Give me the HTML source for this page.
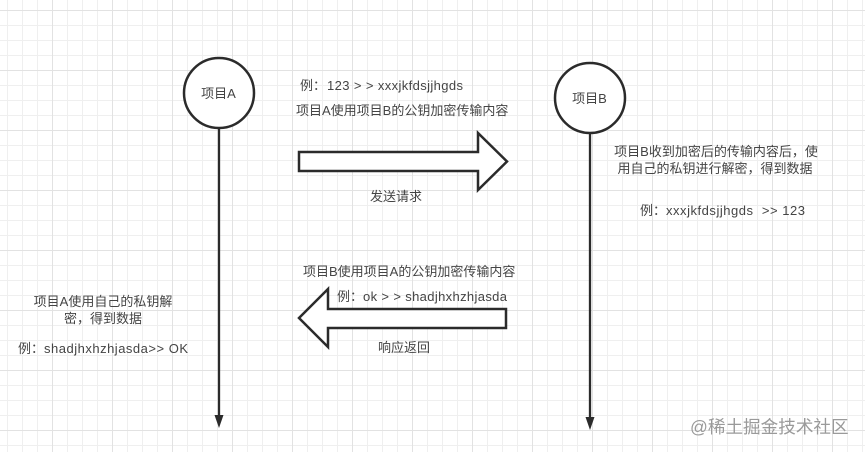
<!DOCTYPE html>
<html><head><meta charset="utf-8">
<style>
html,body{margin:0;padding:0;background:#fff;width:865px;height:452px;overflow:hidden}
svg{display:block;filter:blur(0.35px)}
text{font-family:"Liberation Sans","Noto Sans CJK SC",sans-serif;font-size:13px;fill:#444}
</style></head><body>
<svg width="865" height="452" viewBox="0 0 865 452" xmlns="http://www.w3.org/2000/svg">
<defs>
<pattern id="minor" width="15" height="15" patternUnits="userSpaceOnUse" x="7" y="10">
<path d="M0.5 0V15M0 0.5H15" stroke="#efefef" stroke-width="1" fill="none"/>
</pattern>
<pattern id="major" width="60" height="60" patternUnits="userSpaceOnUse" x="52" y="10">
<path d="M0.5 0V60M0 0.5H60" stroke="#e2e2e2" stroke-width="1" fill="none"/>
</pattern>
</defs>
<rect width="865" height="452" fill="#fff"/>
<rect width="865" height="452" fill="url(#minor)"/>
<rect width="865" height="452" fill="url(#major)"/>

<line x1="219" y1="128" x2="219" y2="416" stroke="#2b2b2b" stroke-width="2.300"/>
<polygon points="214.500,415 223.500,415 219,428" fill="#2b2b2b"/>
<line x1="590" y1="133" x2="590" y2="418" stroke="#2b2b2b" stroke-width="2.300"/>
<polygon points="585.500,417 594.500,417 590,430" fill="#2b2b2b"/>

<circle cx="219" cy="93" r="35" fill="#fff" stroke="#2b2b2b" stroke-width="2.500"/>
<circle cx="590" cy="98" r="35" fill="#fff" stroke="#2b2b2b" stroke-width="2.500"/>

<polygon points="299,152 478,152 478,133 507,161.500 478,190 478,171 299,171" fill="#fff" stroke="#2b2b2b" stroke-width="2.500"/>
<polygon points="506,309 328,309 328,289 299,318 328,347 328,328 506,328" fill="#fff" stroke="#2b2b2b" stroke-width="2.500"/>

<text x="218.500" y="98" text-anchor="middle">项目A</text>
<text x="589.500" y="103" text-anchor="middle">项目B</text>

<text x="300" y="90">例：</text>
<text x="327" y="90" textLength="136" lengthAdjust="spacing">123 &gt; &gt; xxxjkfdsjjhgds</text>
<text x="296" y="115">项目A使用项目B的公钥加密传输内容</text>
<text x="396" y="201" text-anchor="middle">发送请求</text>

<text x="716" y="156" text-anchor="middle">项目B收到加密后的传输内容后，使</text>
<text x="715" y="173" text-anchor="middle">用自己的私钥进行解密，得到数据</text>
<text x="640" y="215">例：</text>
<text x="666" y="215" textLength="139" lengthAdjust="spacing" xml:space="preserve">xxxjkfdsjjhgds  &gt;&gt; 123</text>

<text x="303" y="276">项目B使用项目A的公钥加密传输内容</text>
<text x="337" y="301">例：</text>
<text x="363" y="301" textLength="144" lengthAdjust="spacing">ok &gt; &gt; shadjhxhzhjasda</text>
<text x="404" y="352" text-anchor="middle">响应返回</text>

<text x="103" y="306" text-anchor="middle">项目A使用自己的私钥解</text>
<text x="103" y="323" text-anchor="middle">密，得到数据</text>
<text x="18" y="353">例：</text>
<text x="44" y="353" textLength="144" lengthAdjust="spacing">shadjhxhzhjasda&gt;&gt; OK</text>

<text x="690" y="433" style="font-size:17.600px;fill:#9a9a9a">@稀土掘金技术社区</text>
</svg>
</body></html>
